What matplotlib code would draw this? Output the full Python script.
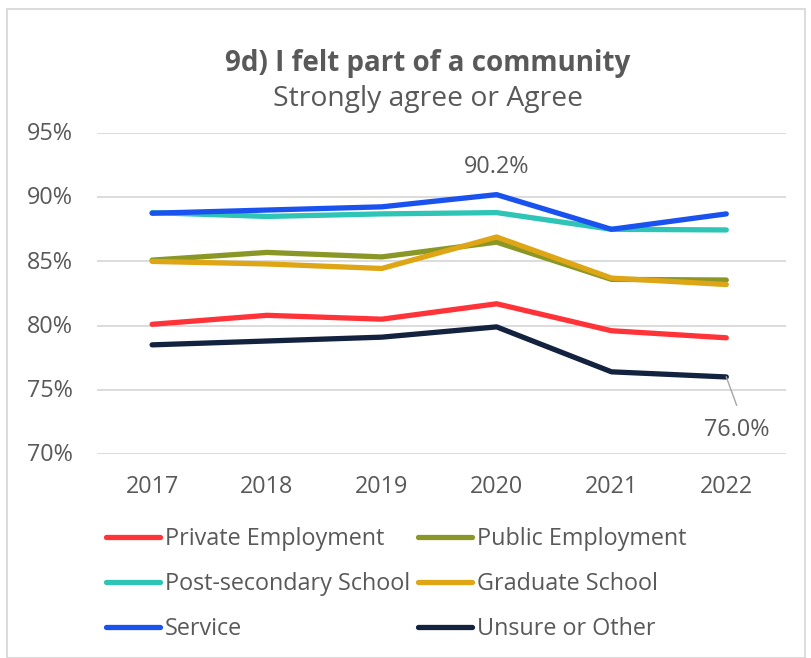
import matplotlib
matplotlib.use("Agg")
import matplotlib.pyplot as plt
from matplotlib.patches import Rectangle
from matplotlib.lines import Line2D

years = ["2017", "2018", "2019", "2020", "2021", "2022"]
private_emp = [80.1, 80.8, 80.5, 81.7, 79.6, 79.05]
public_emp = [85.1, 85.7, 85.35, 86.5, 83.6, 83.55]
post_secondary = [88.8, 88.5, 88.7, 88.8, 87.5, 87.45]
graduate = [85.0, 84.8, 84.45, 86.9, 83.7, 83.2]
service = [88.75, 89.0, 89.25, 90.2, 87.5, 88.7]
unsure = [78.5, 78.8, 79.1, 79.9, 76.4, 76.0]
yticks = [70, 75, 80, 85, 90, 95]

series = [
    ("Private Employment", private_emp, "#FF3338"),
    ("Public Employment", public_emp, "#8A9726"),
    ("Post-secondary School", post_secondary, "#2EC5B6"),
    ("Graduate School", graduate, "#DEA514"),
    ("Service", service, "#1A52F0"),
    ("Unsure or Other", unsure, "#13223F"),
]
draw_order = [2, 4, 1, 3, 0, 5]

plt.rcParams['font.family'] = ['Open Sans', 'DejaVu Sans']
txt = "#595959"
fs = 16.8

W, H = 812, 658
fig = plt.figure(figsize=(W / 100, H / 100), dpi=100)
fig.patches.append(Rectangle((7 / W, 0), 1 - 14 / W, 1 - 9 / H, transform=fig.transFigure,
                             fill=False, edgecolor="#D9D9D9", linewidth=1.3))

ax = fig.add_axes([97 / W, 1 - 454 / H, (786 - 97) / W, (454 - 133) / H])
x = list(range(len(years)))
for i in draw_order:
    name, vals, col = series[i]
    ax.plot(x, vals, color=col, lw=3.8, solid_capstyle='round', solid_joinstyle='round', zorder=3)

ax.set_xlim(-0.48, 5.52)
ax.set_ylim(70, 95)
ax.set_yticks(yticks)
ax.set_yticklabels([])
ax.set_xticks(x)
ax.set_xticklabels(years)
ax.grid(axis='y', color="#D9D9D9", lw=1.3)
ax.set_axisbelow(True)
for s in ax.spines.values():
    s.set_visible(False)
ax.tick_params(axis='both', length=0, labelsize=fs, colors=txt)
ax.tick_params(axis='x', pad=15)
ytr = ax.get_yaxis_transform()
for v in yticks:
    ax.text(-70 / 689, v - 0.1, f"{v}%", transform=ytr, ha='left', va='center', fontsize=fs, color=txt)

# data labels
ax.annotate(f"{service[3]:.1f}%", xy=(3, service[3]), xytext=(0, 20), textcoords='offset points',
            ha='center', va='center', fontsize=fs, color=txt)
ax.text(5.09, 71.9, f"{unsure[5]:.1f}%", ha='center', va='center', fontsize=fs, color=txt)
ax.plot([5, 5.09], [unsure[5], 73.8], color="#A6A6A6", lw=1, zorder=4)

fig.text(0.527, 1 - 64 / H, "9d) I felt part of a community", ha='center', va='center',
         fontsize=20, fontweight='bold', color=txt)
fig.text(0.527, 1 - 99 / H, "Strongly agree or Agree", ha='center', va='center',
         fontsize=20.3, color=txt)

# legend (row-major, 2 columns)
for i, (name, vals, col) in enumerate(series):
    r, c = divmod(i, 2)
    yy = 1 - (537 + 45 * r) / H
    x0 = (106 if c == 0 else 418) / W
    fig.add_artist(Line2D([x0, x0 + 54 / W], [yy, yy], color=col, lw=3.8,
                          solid_capstyle='round', transform=fig.transFigure))
    fig.text(x0 + 59 / W, yy - 2 / H, name, ha='left', va='center', fontsize=fs, color=txt)

fig.savefig("out.png", dpi=100)
